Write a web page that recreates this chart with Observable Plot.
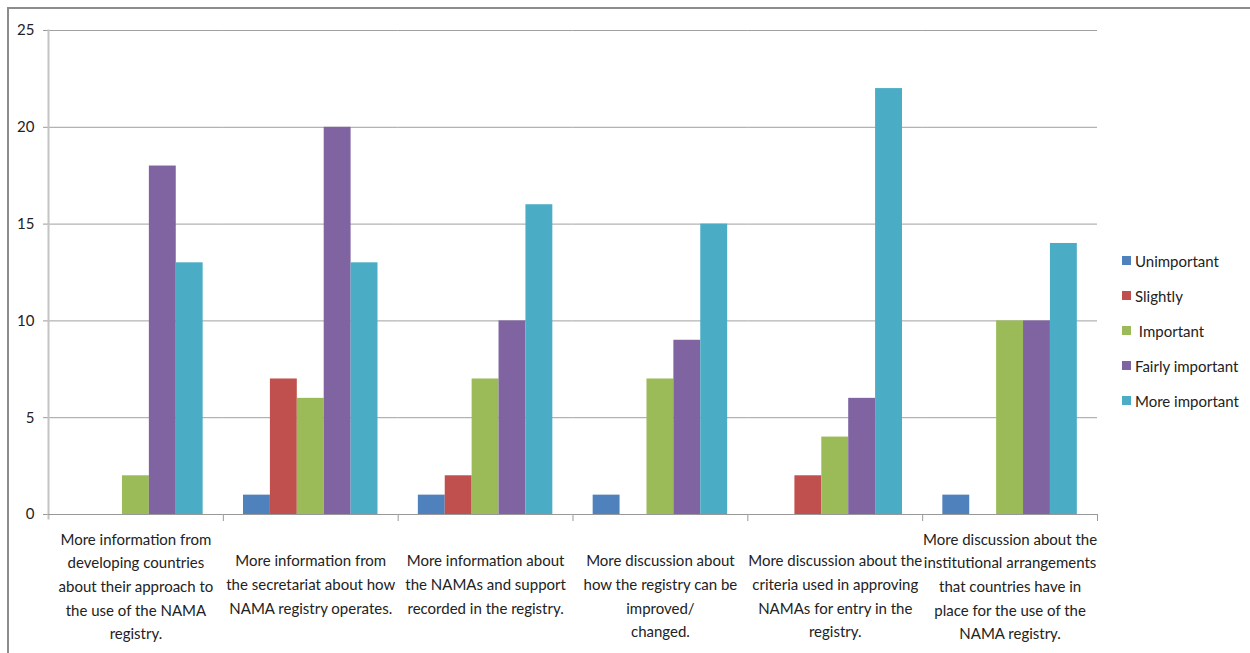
<!DOCTYPE html>
<html><head><meta charset="utf-8">
<script src="https://cdn.jsdelivr.net/npm/d3@7"></script>
<script src="https://cdn.jsdelivr.net/npm/@observablehq/plot@0.6"></script>
<style>
body{margin:0;background:#fff;}
#wrap{position:relative;width:1250px;height:653px;overflow:hidden;font-family:Lato, "Liberation Sans", sans-serif;}
#border{position:absolute;left:7px;top:7px;width:1260px;height:660px;border-left:2px solid #8c8c8c;border-top:2px solid #8c8c8c;}
#chart{position:absolute;left:0;top:0;}
#legend{position:absolute;left:1122px;top:243px;font-size:15px;color:#222;}
.item{height:35px;display:flex;align-items:center;white-space:pre;}
.sw{width:9px;height:9px;margin-right:4px;flex:none;}
</style></head>
<body><div id="wrap"><div id="border"></div><div id="chart"></div><div id="legend"></div></div>
<script>
const categories = [
  "More information from\ndeveloping countries\nabout their approach to\nthe use of the NAMA\nregistry.",
  "More information from\nthe secretariat about how\nNAMA registry operates.",
  "More information about\nthe NAMAs and support\nrecorded in the registry.",
  "More discussion about\nhow the registry can be\nimproved/\nchanged.",
  "More discussion about the\ncriteria used in approving\nNAMAs for entry in the\nregistry.",
  "More discussion about the\ninstitutional arrangements\nthat countries have in\nplace for the use of the\nNAMA registry."
];
const series = ["Unimportant", "Slightly", "Important", "Fairly important", "More important"];
const legendLabels = ["Unimportant", "Slightly", " Important", "Fairly important", "More important"];
const colors = ["#4F81BD", "#C0504D", "#9BBB59", "#8064A2", "#4BACC6"];
const unimportant = [0, 1, 1, 1, 0, 1];
const slightly = [0, 7, 2, 0, 2, 0];
const important = [2, 6, 7, 7, 4, 10];
const fairlyImportant = [18, 20, 10, 9, 6, 10];
const moreImportant = [13, 13, 16, 15, 22, 14];
const yTicks = [0, 5, 10, 15, 20, 25];

const seriesValues = [unimportant, slightly, important, fairlyImportant, moreImportant];
const rows = categories.flatMap((c, i) => series.map((s, j) => ({category: c, series: s, value: seriesValues[j][i]})));
const nLines = d => d.split("\n").length;

const W = 1100, H = 653, mL = 48, mR = 3, mT = 30, mB = 139;
const halfStep = (W - mL - mR) / categories.length / 2;
const font = "Lato, 'Liberation Sans', sans-serif";

const chart = Plot.plot({
  width: W, height: H,
  marginLeft: mL, marginRight: mR, marginTop: mT, marginBottom: mB,
  style: {fontFamily: font, fontSize: "15px", color: "#222", background: "transparent"},
  fx: {domain: categories, padding: 0, round: false, axis: null},
  x: {domain: series, paddingInner: 0, paddingOuter: 0.75, round: false, axis: null},
  y: {domain: [0, 25], axis: null},
  color: {domain: series, range: colors},
  marks: [
    Plot.ruleY(yTicks.filter(d => d > 0), {stroke: "#a0a0a0", strokeWidth: 1}),
    Plot.axisY({ticks: yTicks, tickSize: 5, tickPadding: 9, stroke: "#999", fill: "#222", fontSize: 15, label: null}),
    Plot.frame({anchor: "left", facetAnchor: "left", stroke: "#c4c4c4", strokeWidth: 2, insetBottom: -4}),
    Plot.barY(rows, {fx: "category", x: "series", y: "value", fill: "series"}),
    Plot.ruleY([0], {stroke: "#999", strokeWidth: 1}),
    Plot.axisFx({anchor: "bottom", tickSize: 7, tickFormat: () => "", dx: halfStep, stroke: "#999", label: null}),
    Plot.text(categories.filter(d => nLines(d) === 5), {fx: d => d, text: d => d, frameAnchor: "bottom", lineAnchor: "middle", dy: 70, lineHeight: 1.58, fontSize: 15, fill: "#222"}),
    Plot.text(categories.filter(d => nLines(d) < 5), {fx: d => d, text: d => d, frameAnchor: "bottom", lineAnchor: "top", dy: 35, lineHeight: 1.58, fontSize: 15, fill: "#222"})
  ]
});
document.getElementById("chart").appendChild(chart);

const legend = document.getElementById("legend");
series.forEach((s, i) => {
  const item = document.createElement("div");
  item.className = "item";
  const sw = document.createElement("span");
  sw.className = "sw";
  sw.style.background = colors[i];
  const t = document.createElement("span");
  t.textContent = legendLabels[i];
  item.appendChild(sw); item.appendChild(t);
  legend.appendChild(item);
});
</script></body></html>
